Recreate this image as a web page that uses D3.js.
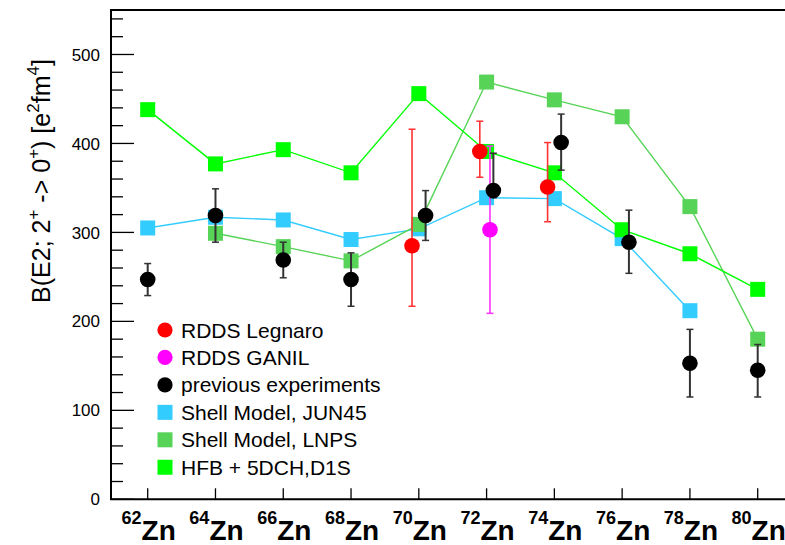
<!DOCTYPE html>
<html>
<head>
<meta charset="utf-8">
<script src="https://cdn.jsdelivr.net/npm/d3@7"></script>
<style>
  html, body { margin: 0; padding: 0; background: #fff; }
  svg { display: block; font-family: "Liberation Sans", Arial, Helvetica, sans-serif; }
</style>
</head>
<body>
<svg id="chart" width="785" height="545"></svg>
<script>
// Zinc isotopes (mass number) and their axis labels
const isotopes = [62, 64, 66, 68, 70, 72, 74, 76, 78, 80];
const massLabels = ["62", "64", "66", "68", "70", "72", "74", "76", "78", "80"];

// HFB + 5DCH,D1S
const hfbA = [62, 64, 66, 68, 70, 72, 74, 76, 78, 80];
const hfbB = [438, 377, 393, 367, 456, 391, 367, 303, 276, 236];

// Shell Model, LNPS
const lnpsA = [64, 66, 68, 70, 72, 74, 76, 78, 80];
const lnpsB = [299, 284, 268, 309, 469, 449, 430, 329, 180];

// Shell Model, JUN45
const junA = [62, 64, 66, 68, 70, 72, 74, 76, 78];
const junB = [305, 317, 314, 292, 304, 339, 338, 293, 212];

// previous experiments
const prevA = [62, 64, 66, 68, 70.2, 72.2, 74.2, 76.2, 78, 80];
const prevB = [247, 319, 269, 247, 319, 347, 401, 289, 153, 145];
const prevUp = [18, 30, 20, 30, 28, 42, 32, 36, 38, 29];
const prevDown = [18, 30, 20, 30, 28, 8, 31, 35, 38, 30];

// RDDS Legnaro
const legA = [69.8, 71.8, 73.8];
const legB = [285, 391, 351];
const legUp = [131, 34, 50];
const legDown = [68, 29, 39];

// RDDS GANIL
const ganA = [72.1];
const ganB = [303];
const ganUp = [94];
const ganDown = [94];

// y axis ticks
const yMajor = [0, 100, 200, 300, 400, 500];
const yMinor = d3.range(0, 541, 20);

const legendLabels = ["RDDS Legnaro", "RDDS GANIL", "previous experiments",
  "Shell Model, JUN45", "Shell Model, LNPS", "HFB + 5DCH,D1S"];

const col = {
  legnaro: "#ff0000", ganil: "#ff00ff", prev: "#000000",
  jun: "#33ccff", lnps: "#57d457", hfb: "#00ff00"
};

const svg = d3.select("#chart");
const frameL = 111, frameT = 10, frameB = 499.3, frameR = 786;

const x = d3.scaleLinear().domain([62, 80]).range([147.7, 757.7]);
const y = d3.scaleLinear().domain([0, 550]).range([frameB, frameT]);

// ---- axes ----
const axisG = svg.append("g");
// y ticks (ROOT style, inward)
axisG.selectAll("line.ymin").data(yMinor).join("line")
  .attr("x1", frameL).attr("x2", d => frameL + (d % 100 === 0 ? 23 : 12))
  .attr("y1", d => y(d)).attr("y2", d => y(d))
  .attr("stroke", "#000").attr("stroke-width", 1.3);
axisG.selectAll("text.ylab").data(yMajor).join("text")
  .attr("x", 100).attr("y", d => y(d)).attr("dy", "0.36em")
  .attr("text-anchor", "end").attr("font-size", 17).text(d => d);
// x ticks
axisG.selectAll("line.xt").data(isotopes).join("line")
  .attr("x1", d => x(d)).attr("x2", d => x(d))
  .attr("y1", frameB).attr("y2", frameB - 11)
  .attr("stroke", "#000").attr("stroke-width", 1.3);
// frame
axisG.append("path")
  .attr("d", `M${frameR},${frameT}H${frameL}V${frameB}H${frameR}`)
  .attr("fill", "none").attr("stroke", "#000").attr("stroke-width", 2);

// x labels: superscript mass number + Zn
const xl = axisG.selectAll("text.xl").data(isotopes).join("text")
  .attr("x", d => x(d) + 1).attr("y", 540)
  .attr("text-anchor", "middle").attr("font-weight", "bold");
xl.append("tspan").attr("font-size", 18).attr("dy", -16).text((d, i) => massLabels[i]);
xl.append("tspan").attr("font-size", 28).attr("dy", 16).text("Zn");

// y title
const yt = svg.append("text")
  .attr("transform", "translate(50,181) rotate(-90)")
  .attr("text-anchor", "middle").attr("font-size", 25);
const parts = [["B(E2; 2", 0], ["+", 1], [" -> 0", 0], ["+", 1], [") [e", 0], ["2", 1], ["fm", 0], ["4", 1], ["]", 0]];
let raised = false;
parts.forEach(([t, sup]) => {
  const ts = yt.append("tspan").text(t);
  if (sup) { ts.attr("font-size", 17).attr("dy", raised ? 0 : -11); raised = true; }
  else { if (raised) ts.attr("dy", 11); raised = false; }
});

// ---- theory curves ----
const line = d3.line().x(d => x(d[0])).y(d => y(d[1]));
function theory(A, B, color) {
  const pts = A.map((a, i) => [a, B[i]]);
  svg.append("path").attr("d", line(pts)).attr("fill", "none")
    .attr("stroke", color).attr("stroke-width", 1.4);
  svg.append("g").selectAll("rect").data(pts).join("rect")
    .attr("x", d => x(d[0]) - 7.5).attr("y", d => y(d[1]) - 7.5)
    .attr("width", 15).attr("height", 15).attr("fill", color);
}
theory(junA, junB, col.jun);
theory(lnpsA, lnpsB, col.lnps);
theory(hfbA, hfbB, col.hfb);

// ---- measurements with error bars ----
function measured(A, B, up, down, color, barColor, bw) {
  const g = svg.append("g");
  A.forEach((a, i) => {
    const cx = x(a), hi = y(B[i] + up[i]), lo = y(B[i] - down[i]);
    g.append("line").attr("x1", cx).attr("x2", cx).attr("y1", hi).attr("y2", lo)
      .attr("stroke", barColor).attr("stroke-width", bw);
    [hi, lo].forEach(yy => g.append("line")
      .attr("x1", cx - 3.5).attr("x2", cx + 3.5).attr("y1", yy).attr("y2", yy)
      .attr("stroke", barColor).attr("stroke-width", 1.5));
    g.append("circle").attr("cx", cx).attr("cy", y(B[i])).attr("r", 7.8).attr("fill", color);
  });
}
measured(ganA, ganB, ganUp, ganDown, col.ganil, "#ff33ff", 1.6);
measured(prevA, prevB, prevUp, prevDown, col.prev, "#333333", 2);
measured(legA, legB, legUp, legDown, col.legnaro, "#ff3333", 1.6);

// ---- legend ----
const legendColors = [col.legnaro, col.ganil, col.prev, col.jun, col.lnps, col.hfb];
const legendShape = ["circle", "circle", "circle", "square", "square", "square"];
const lg = svg.append("g");
legendLabels.forEach((lab, i) => {
  const cy = 330 + i * 27.45;
  if (legendShape[i] === "circle") {
    lg.append("circle").attr("cx", 165).attr("cy", cy).attr("r", 7.6).attr("fill", legendColors[i]);
  } else {
    lg.append("rect").attr("x", 157.5).attr("y", cy - 7.5).attr("width", 15).attr("height", 15)
      .attr("fill", legendColors[i]);
  }
  lg.append("text").attr("x", 181).attr("y", cy).attr("dy", "0.36em")
    .attr("font-size", 21).text(lab);
});
</script>
</body>
</html>
